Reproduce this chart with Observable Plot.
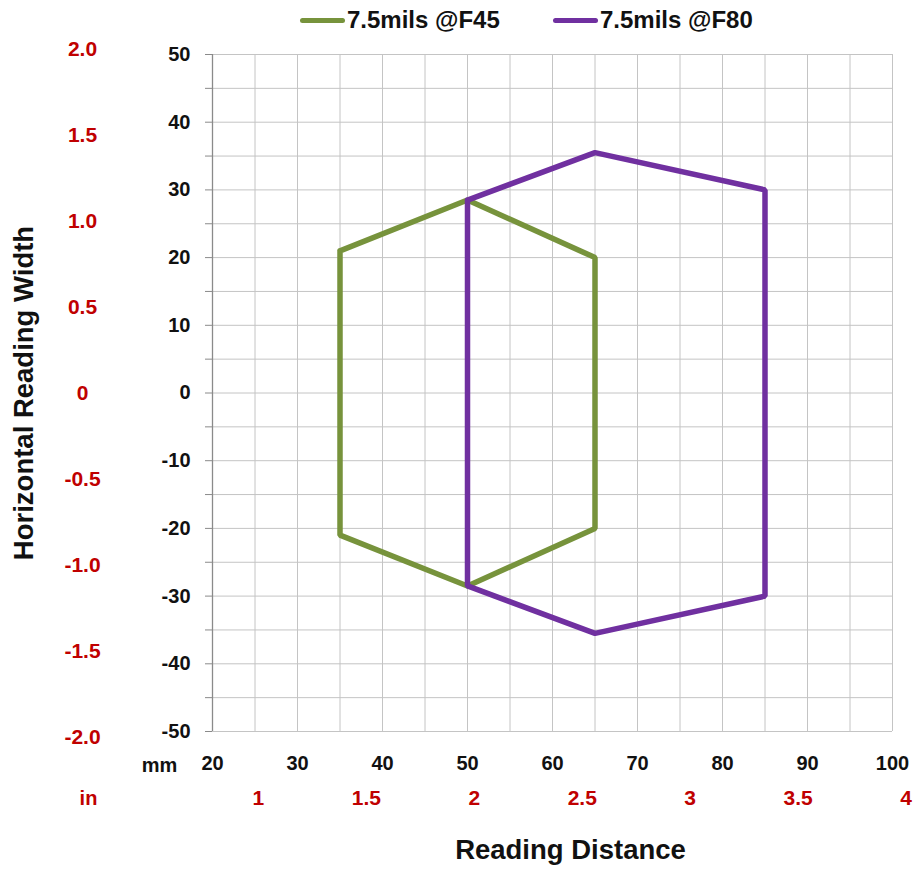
<!DOCTYPE html>
<html>
<head>
<meta charset="utf-8">
<script src="https://cdn.jsdelivr.net/npm/d3@7"></script>
<script src="https://cdn.jsdelivr.net/npm/@observablehq/plot@0.6"></script>
<style>
  html, body { margin: 0; padding: 0; background: #fff; }
  body { width: 913px; height: 869px; overflow: hidden; font-family: "Liberation Sans", Arial, sans-serif; }
  #legend { height: 40px; position: relative; font-weight: bold; font-size: 24px; color: #111; }
  .item { position: absolute; top: 6px; display: flex; align-items: center; white-space: nowrap; }
  .sw { width: 45px; height: 5px; border-radius: 3px; margin-right: 2px; }
  svg { display: block; }
</style>
</head>
<body>
<div id="legend"></div>
<div id="chart"></div>
<script>
// ---- data ----
const seriesNames = ["7.5mils @F45", "7.5mils @F80"];
const seriesColors = ["#77933C", "#7030A0"];
// reading distance (mm) and horizontal reading width (mm), closed polygons
const f45Distance = [35, 50, 65, 65, 50, 35, 35];
const f45Width    = [21, 28.5, 20, -20, -28.5, -21, 21];
const f80Distance = [50, 65, 85, 85, 65, 50, 50];
const f80Width    = [28.5, 35.5, 30, -30, -35.5, -28.5, 28.5];
const xTicksMm = [20, 30, 40, 50, 60, 70, 80, 90, 100];
const yTicksMm = [-50, -40, -30, -20, -10, 0, 10, 20, 30, 40, 50];
const xTicksIn = [1, 1.5, 2, 2.5, 3, 3.5, 4];
const yTicksIn = [2, 1.5, 1, 0.5, 0, -0.5, -1, -1.5, -2];
const MM_PER_IN = 25.4;

// ---- legend ----
const legend = document.getElementById("legend");
const legendLeft = [300, 553];
seriesNames.forEach((name, i) => {
  const it = document.createElement("div");
  it.className = "item";
  it.style.left = legendLeft[i] + "px";
  it.innerHTML = `<span class="sw" style="background:${seriesColors[i]}"></span><span>${name}</span>`;
  legend.appendChild(it);
});

// ---- table ----
const rows = [];
f45Distance.forEach((d, i) => rows.push({series: seriesNames[0], x: d, y: f45Width[i]}));
f80Distance.forEach((d, i) => rows.push({series: seriesNames[1], x: d, y: f80Width[i]}));

const every5x = d3.range(20, 101, 5);
const every5y = d3.range(-50, 51, 5);
const red = "#C00000";
const fmtIn = d => d === 0 ? "0" : (Number.isInteger(d) ? d.toFixed(1) : String(d));

const chart = Plot.plot({
  width: 913,
  height: 829,
  marginTop: 14,
  marginBottom: 138,
  marginLeft: 212,
  marginRight: 21,
  style: {fontFamily: '"Liberation Sans", Arial, sans-serif', fontWeight: "bold", background: "#fff", overflow: "visible"},
  x: {domain: [20, 100], label: null},
  y: {domain: [-50, 50], label: null},
  color: {domain: seriesNames, range: seriesColors},
  marks: [
    Plot.gridX(every5x, {stroke: "#c4c4c4", strokeOpacity: 1, strokeWidth: 1}),
    Plot.gridY(every5y, {stroke: "#c4c4c4", strokeOpacity: 1, strokeWidth: 1}),
    Plot.ruleX([20], {stroke: "#8a8a8a", strokeWidth: 1.3}),
    Plot.axisY({ticks: every5y, tickSize: 7, tickPadding: 15, stroke: "#8a8a8a",
      tickFormat: d => d % 10 === 0 ? String(d) : "", fontSize: 20, fill: "#111", label: null}),
    Plot.axisX({ticks: xTicksMm, tickSize: 0, tickPadding: 24,
      tickFormat: d => String(d), fontSize: 20, fill: "#111", label: null}),
    Plot.line(rows.filter(d => d.series === seriesNames[0]), {x: "x", y: "y", stroke: "series", strokeWidth: 5.5, strokeLinejoin: "miter"}),
    Plot.line(rows.filter(d => d.series === seriesNames[1]), {x: "x", y: "y", stroke: "series", strokeWidth: 5.5, strokeLinejoin: "miter"}),
    // inch scales (converted to mm through the same scales)
    Plot.text(yTicksIn, {y: d => d * MM_PER_IN, text: d => fmtIn(d), frameAnchor: "left", dx: -130,
      textAnchor: "middle", fill: red, fontSize: 21}),
    Plot.text(xTicksIn, {x: d => d * MM_PER_IN, text: d => String(d), frameAnchor: "bottom", dy: 73,
      textAnchor: "middle", fill: red, fontSize: 21}),
    Plot.text(["mm"], {frameAnchor: "bottom-left", dx: -53, dy: 40, textAnchor: "middle", fill: "#111", fontSize: 20}),
    Plot.text(["in"], {frameAnchor: "bottom-left", dx: -124, dy: 73, textAnchor: "middle", fill: red, fontSize: 20}),
    // titles
    Plot.text(["Horizontal Reading Width"], {frameAnchor: "left", dx: -188, rotate: -90, textAnchor: "middle", fill: "#111", fontSize: 27.5}),
    Plot.text(["Reading Distance"], {frameAnchor: "bottom", dx: 18, dy: 127, textAnchor: "middle", fill: "#111", fontSize: 27.5})
  ]
});
document.getElementById("chart").appendChild(chart);
</script>
</body>
</html>
